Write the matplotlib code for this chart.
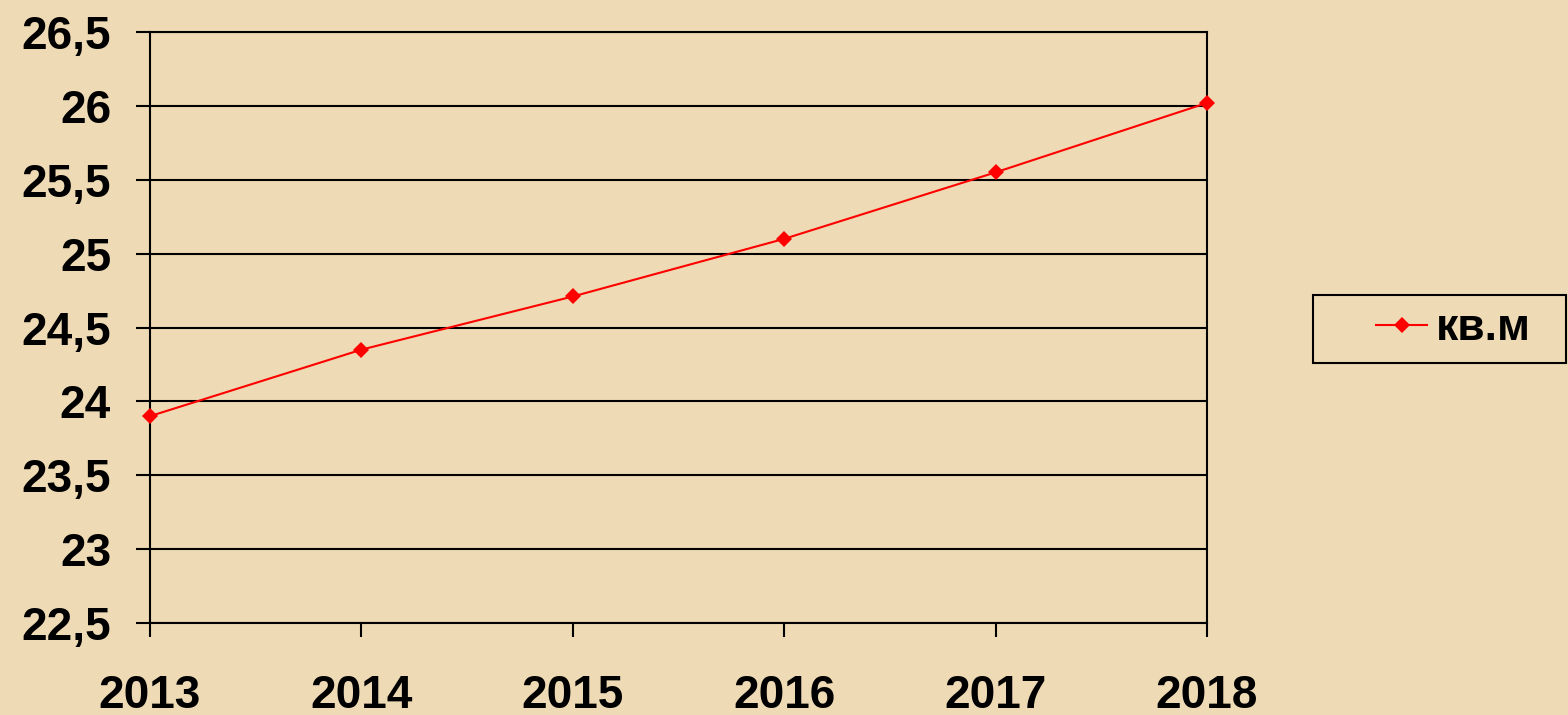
import matplotlib
matplotlib.use("Agg")
import matplotlib.pyplot as plt
from matplotlib.patches import Rectangle

years = ["2013", "2014", "2015", "2016", "2017", "2018"]
values = [23.9, 24.35, 24.71, 25.1, 25.55, 26.02]
series_name = "кв.м"
yticks = [22.5, 23, 23.5, 24, 24.5, 25, 25.5, 26, 26.5]
ytick_labels = ["22,5", "23", "23,5", "24", "24,5", "25", "25,5", "26", "26,5"]

BG = "#EEDAB4"
W, H = 1568, 715
plt.rcParams['font.family'] = ['Liberation Sans', 'DejaVu Sans']

fig = plt.figure(figsize=(W / 100, H / 100), dpi=100, facecolor=BG)
ax = fig.add_axes([150 / W, 1 - 623 / H, (1207 - 150) / W, (623 - 32) / H])
ax.set_facecolor(BG)

x = list(range(len(years)))
ax.plot(x, values, color="#FF0000", lw=1.5, marker="D", markersize=8.5,
        markeredgewidth=0, label=series_name, clip_on=False, zorder=3)

ax.set_xlim(0, len(years) - 1)
ax.set_ylim(22.5, 26.5)
ax.set_yticks(yticks)
ax.set_yticklabels(ytick_labels)
ax.set_xticks(x)
ax.set_xticklabels(years)
ax.yaxis.grid(True, color="black", lw=1.5)
ax.set_axisbelow(True)
for s in ax.spines.values():
    s.set_color("black")
    s.set_linewidth(1.5)
ax.tick_params(axis="both", direction="out", length=10, width=1.5, colors="black",
               labelsize=33)
ax.tick_params(axis="y", pad=18)
ax.tick_params(axis="x", pad=27)
for lab in ax.get_xticklabels() + ax.get_yticklabels():
    lab.set_fontweight("bold")

# legend
fig.patches.append(Rectangle((1313 / W, 1 - 363 / H), (1566 - 1313) / W, (363 - 295) / H,
                             transform=fig.transFigure, fill=False, ec="black", lw=1.5))
leg = fig.legend(loc="center left", bbox_to_anchor=(1376 / W, 1 - 329 / H),
                 frameon=False, handlelength=1.15, handletextpad=0.2,
                 borderpad=0, borderaxespad=0,
                 prop={"size": 32, "weight": "bold"})

fig.savefig("out.png", dpi=100, facecolor=BG)
